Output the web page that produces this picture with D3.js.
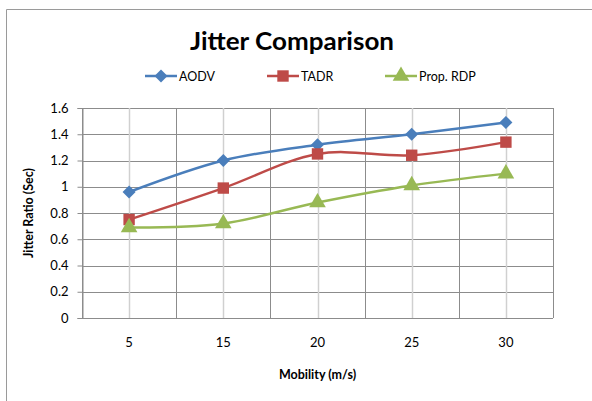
<!DOCTYPE html>
<html><head><meta charset="utf-8">
<script src="https://cdn.jsdelivr.net/npm/d3@7/dist/d3.min.js"></script>
<style>body{margin:0;background:#fff}svg{display:block;font-family:Lato,"Open Sans",sans-serif}</style>
</head><body><svg id="c" width="592" height="401"></svg>
<script>
const categories = ["5","15","20","25","30"];
const aodv = [0.96,1.20,1.32,1.40,1.49];
const tadr = [0.75,0.99,1.25,1.24,1.34];
const propRdp = [0.69,0.72,0.88,1.01,1.10];
const yTicks = [0,0.2,0.4,0.6,0.8,1,1.2,1.4,1.6];
const seriesNames = ["AODV","TADR","Prop. RDP"];
const colors = ["#4a7ebb","#be4b48","#98b954"];

const svg = d3.select("#c");
// outer border
svg.append("path").attr("d","M6.5,401 L6.5,9.5 L592,9.5").attr("fill","none").attr("stroke","#9a9a9a").attr("stroke-width",1);

const L=82, R=553, T=108, B=318;
const x = d3.scaleBand().domain(categories).range([L,R]).padding(0);
const y = d3.scaleLinear().domain([0,1.6]).range([B,T]);

// horizontal grid
svg.append("g").selectAll("line").data(yTicks).join("line")
  .attr("x1",L).attr("x2",R).attr("y1",d=>Math.round(y(d))+0.5).attr("y2",d=>Math.round(y(d))+0.5)
  .attr("stroke","#8c8c8c").attr("stroke-width",1);
// vertical light (category center)
svg.append("g").selectAll("line").data(categories).join("line")
  .attr("x1",d=>Math.round(x(d)+x.bandwidth()/2)+0.5).attr("x2",d=>Math.round(x(d)+x.bandwidth()/2)+0.5)
  .attr("y1",T).attr("y2",B).attr("stroke","#d0d0d0").attr("stroke-width",1.5);
// vertical dark (boundaries)
const bounds = categories.map(c=>x(c)).concat([R]);
svg.append("g").selectAll("line").data(bounds).join("line")
  .attr("x1",d=>Math.round(d)+0.5).attr("x2",d=>Math.round(d)+0.5)
  .attr("y1",T).attr("y2",B).attr("stroke","#8c8c8c").attr("stroke-width",1);

// y axis ticks & labels
const yAxis = d3.axisLeft(y).tickValues(yTicks).tickSize(5).tickPadding(9).tickFormat(d=>d3.format("")(d));
const gy = svg.append("g").attr("transform",`translate(${L+0.5},0)`).call(yAxis);
gy.select(".domain").attr("stroke","#8c8c8c");
gy.selectAll(".tick line").attr("stroke","#8c8c8c");
gy.selectAll(".tick text").attr("font-size",13).attr("fill","#000").attr("font-family","Lato");

// x labels
const xAxis = d3.axisBottom(x).tickSize(0).tickPadding(20);
const gx = svg.append("g").attr("transform",`translate(0,${B})`).call(xAxis);
gx.select(".domain").remove();
gx.selectAll(".tick text").attr("font-size",13).attr("fill","#000").attr("font-family","Lato");

// titles
svg.append("text").attr("x",292).attr("y",50).attr("text-anchor","middle")
  .attr("font-size",24).attr("font-weight","bold").attr("textLength",204).attr("lengthAdjust","spacingAndGlyphs").text("Jitter Comparison");
svg.append("text").attr("x",(L+R)/2).attr("y",379).attr("text-anchor","middle")
  .attr("font-size",12.5).attr("font-weight","bold").text("Mobility (m/s)");
svg.append("text").attr("transform","translate(33,213) rotate(-90)").attr("text-anchor","middle")
  .attr("font-size",12.5).attr("font-weight","bold").text("Jitter Ratio (Sec)");

const data = [aodv,tadr,propRdp];
const symbols = [d3.symbolSquare, d3.symbolSquare, d3.symbolTriangle];
const sizes = [85, 130, 120];
const rot = [" rotate(45)","",""];
const line = d3.line().x((d,i)=>x(categories[i])+x.bandwidth()/2).y(d=>y(d)).curve(d3.curveCardinal.tension(0));

data.forEach((vals,k)=>{
  svg.append("path").datum(vals).attr("d",line).attr("fill","none").attr("stroke",colors[k]).attr("stroke-width",2.5);
  svg.append("g").selectAll("path").data(vals).join("path")
    .attr("transform",(d,i)=>`translate(${x(categories[i])+x.bandwidth()/2},${y(d)})`+rot[k])
    .attr("d",d3.symbol().type(symbols[k]).size(sizes[k])).attr("fill",colors[k]);
});

// legend
const legX = [145,267,385];
const legY = 76;
seriesNames.forEach((n,k)=>{
  const g = svg.append("g");
  g.append("line").attr("x1",legX[k]).attr("x2",legX[k]+32).attr("y1",legY).attr("y2",legY).attr("stroke",colors[k]).attr("stroke-width",2.5);
  g.append("path").attr("transform",`translate(${legX[k]+16},${legY})`+rot[k])
    .attr("d",d3.symbol().type(symbols[k]).size(sizes[k])).attr("fill",colors[k]);
  g.append("text").attr("x",legX[k]+34).attr("y",legY+4.5).attr("font-size",12.5).text(n);
});
</script></body></html>
